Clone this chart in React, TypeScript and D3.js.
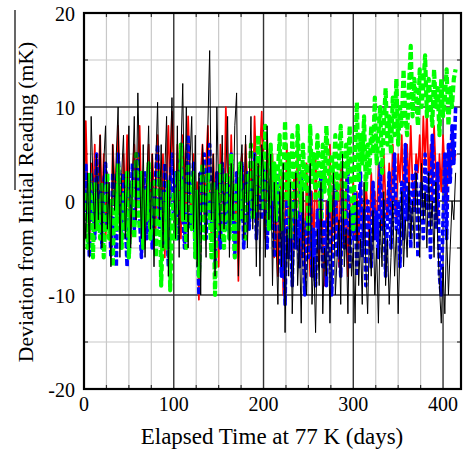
import React from "react";
import * as d3 from "d3";

const DAY_STEP = 2;

const blackSeries = [
  0, -4, 3, -6, 9, 2, -3, 5, -2, 7,
  -5, 4, 8, -3, 2, -7, 6, -1, 5, 10,
  -6, 3, 7, -4, 1, 8, -5, 2, 9, -2,
  11.5, 3, -4, 6, -6, 2, 8, -3, 5, -7,
  4, 10.5, -2, 6, -5, 3, 9, -8, 4, 11,
  2, -4, 8, -6, 5, 12.5, -2, 10, -5, 4,
  9, -3, 7, -7, 3, -10, 6, 2, -6, 8,
  16, -2, 5, -8, 10, 1, -4, 7, -3, 3,
  9, -6, 4, -2, 8, 11.5, -8, 3, 6, -4,
  7, -5, 2, 9, -3, 5, -7, 4, -8, 6,
  3, -6, 8, -2, 5, -9, 2, -4, -11, 1,
  -7, 4, -14, -3, -8, 2, -12, -5, 3, -9,
  -4, -13, 1, -7, -10, -2, 4, -11, -6, -14,
  -3, -9, 2, -12, -5, -8, 0, -13, -4, 3,
  -10, -6, -2, -11, 5, -7, -3, -12, -1, -8,
  -5, -13, 0, -9, -4, -11, 2, -7, -12, -3,
  -8, -1, -10, -5, -13, -2, -7, 1, -9, -4,
  -11, -6, 0, -8, -3, -12, -5, 1, -7, -2,
  -6, 2, -4, 0, -5, 3, -1, -6, 4, -2,
  1, -5, 3, -3, 0, -6, 2, -4, -9, -13,
  -7, -12, -3, -10, -5, 0, -2, 3,
];

const redSeries = [
  -2, 8.5, 1, -5, 4, -1, 6, -3, 2, 7,
  -1, 5, -4, 3, 0, -6, 6, 2, -2, 8,
  1, -3, 5, -1, 7, 0, -4, 3, 6, -2,
  4, 8, -1, 3, -5, 2, 6, -2, 5, 1,
  -3, 7, 2, -1, 5, -6, 3, 8, 0, 9.5,
  4, -2, 6, 1, -4, 7, 3, -1, 9, 2,
  -3, 5, -5, 2, -10.5, 3, 6, -2, 4, 8,
  1, -4, 5, -1, 3, -7, 6, 2, -3, 10,
  4, -2, 7, 0, -5, 3, -8.5, 2, 5, -1,
  6, 2, -3, 4, -1, 9, 3, -2, 5, 9.5,
  2, -4, 7, 1, -3, 5, -6, 2, -8, -1,
  3, -10, -2, 6, -5, 1, -7, 3, -4, 7,
  -1, -6, 2, -9, 4, -3, -8, 1, -5, 5,
  -2, -7, 3, -4, -9, 0, -3, 6, -6, 1,
  -4, 2, -7, 4, -1, -5, 3, -8, 0, -3,
  2, -4, 1, -5, 3, -2, -4, 2, -1, -5,
  3, -3, 1, -4, 4, -1, -3, 5, 0, -2,
  4, -1, 6, 1, -2, 5, 2, 7, 0, 3,
  6, 1, 8, 2, -1, 5, 3, 7, 1, 9,
  4, 10, 2, 6, 0, 8, 3, -2, 5, 1,
  7, 3, -1, 6, 2, 8, 4, 5,
];

const blueSeries = [
  -3, 4, -1, -6, 3, 0, -4, 5, -2, 1,
  -5, 2, 4, -3, 0, -6, 3, -1, -7, 5,
  1, -4, 3, -2, -7, 2, -1, 4, -3, 0,
  5, -2, -6, 1, 3, -4, 0, 2, -5, -1,
  3, 6, -3, 1, -5, 4, -1, -7, 2, 5,
  -2, 3, -4, 1, 6, -1, -5, 2, 7, -3,
  1, 4, -6, -2, -10, 3, -1, 5, -4, 2,
  6, -3, 1, -7, 3, -2, -5, 4, 0, -3,
  2, -4, 5, -1, -6, 3, 0, -2, 4, -5,
  1, 3, -3, 2, -1, 5, -4, 0, 3, -2,
  4, -1, -5, 2, -3, 1, -6, 0, 3, -4,
  -8, -2, -11, 1, -6, -3, -9, 2, -5, -1,
  -7, 3, -4, -10, -2, -6, 1, -8, -3, -9,
  -1, -5, 3, -7, -2, -9, 0, -4, -10, -3,
  2, -6, -3, -8, 1, -5, -2, 4, -7, -1,
  -4, 1, -8, -2, 3, -6, -1, -9, 0, -3,
  -7, 2, -4, -1, -6, 4, -3, 0, -8, -2,
  3, -5, -1, 5, -3, 0, -7, 2, -4, 6,
  -2, 1, -5, 3, -1, 4, -6, 0, 2, -4,
  5, -1, 3, -6, 7, 1, -3, 4, -8, -10,
  -2, 5, -4, 6, 2, 8, 4, 10,
];

const greenSeries = [
  -2, 1, -5, 3, -1, -6, 2, -3, 0, -4,
  2, -6, -1, 3, -4, 0, -7, 1, -3, 4,
  -2, -5, 1, -3, 3, -6, -1, 2, -4, 5,
  0, -3, 3, -5, 1, -2, 4, -4, -1, 2,
  -6, 0, 3, -9, -2, 1, -5, 2, -9.5, -3,
  1, -4, 3, -1, 6, -2, 2, -5, 4, 0,
  -3, 3, -6, 1, -8, -2, 4, -4, 0, 3,
  -1, -6, 2, -10, 1, -3, 4, -2, -5, 3,
  0, -4, 5, -1, -6, 2, -3, 4, -2, 1,
  -4, 3, 0, 6, -2, 4, -1, 7, 1, 5,
  -1, 8, 2, -3, 6, 0, 4, -2, 3, 7,
  -3, 2, 8.5, 0, 5, -4, 7, 2, -2, 8,
  3, -1, 6, 1, 4, -3, 8, 2, 5, 0,
  7, 3, -2, 6, 1, 8, 4, -1, 5, 2,
  7, 0, 4, 8, 2, -2, 6, 3, 8, 1,
  -3, 5, 10.5, 2, 7, 4, 9, 1, 6, 3,
  8, 5, 11, 4, 7, 10, 3, 8, 12, 6,
  9, 5, 11, 7, 13, 6, 10, 8, 14, 9,
  7, 12, 16.5, 9, 13, 11, 8, 14, 10, 12,
  15.5, 9, 13, 11, 8, 14, 10, 12, 7, 13,
  9, 11, 14, 8, 12, 10, 13, 14,
];

const xTickLabels = [0, 100, 200, 300, 400];
const yTickLabels = [-20, -10, 0, 10, 20];
const xMinorGrid = [25, 50, 75, 125, 150, 175, 225, 250, 275, 325, 350, 375];
const xMajorGrid = [100, 200, 300, 400];
const yMinorGrid = [-15, -5, 5, 15];
const yMajorGrid = [-10, 0, 10];

const W = 463;
const H = 451;
const left = 84;
const right = 461;
const top = 13;
const bottom = 389;

export default function App() {
  const x = d3.scaleLinear().domain([0, 420]).range([left, right]);
  const y = d3.scaleLinear().domain([-20, 20]).range([bottom, top]);
  const line = d3
    .line<number>()
    .x((_, i) => x(i * DAY_STEP))
    .y((d) => y(d));

  const series = [
    { data: redSeries, color: "#ff0000", width: 1.7, dash: undefined },
    { data: blueSeries, color: "#0000ff", width: 3.6, dash: "6,2.5" },
    { data: greenSeries, color: "#00ff00", width: 4.2, dash: "7,3" },
    { data: blackSeries, color: "#000000", width: 1, dash: undefined },
  ];

  const font = "'Liberation Serif', 'Times New Roman', serif";

  return (
    <svg
      width={W}
      height={H}
      style={{ position: "absolute", left: 0, top: 0, background: "#fff" }}
    >
      <defs>
        <clipPath id="plotclip">
          <rect x={left} y={top} width={right - left} height={bottom - top} />
        </clipPath>
      </defs>
      <rect x={0} y={0} width={W} height={H} fill="#fff" />
      {xMinorGrid.map((d) => (
        <line key={"xm" + d} x1={x(d)} x2={x(d)} y1={top} y2={bottom} stroke="#c8c8c8" strokeWidth={1.2} />
      ))}
      {yMinorGrid.map((d) => (
        <line key={"ym" + d} x1={left} x2={right} y1={y(d)} y2={y(d)} stroke="#c8c8c8" strokeWidth={1.2} />
      ))}
      {xMajorGrid.map((d) => (
        <line key={"xM" + d} x1={x(d)} x2={x(d)} y1={top} y2={bottom} stroke="#333" strokeWidth={1.4} />
      ))}
      {yMajorGrid.map((d) => (
        <line key={"yM" + d} x1={left} x2={right} y1={y(d)} y2={y(d)} stroke="#333" strokeWidth={1.4} />
      ))}
      {xMinorGrid.map((d) => (
        <g key={"xt" + d}>
          <line x1={x(d)} x2={x(d)} y1={bottom} y2={bottom - 4} stroke="#333" strokeWidth={1.2} />
          <line x1={x(d)} x2={x(d)} y1={top} y2={top + 4} stroke="#333" strokeWidth={1.2} />
        </g>
      ))}
      {yMinorGrid.map((d) => (
        <g key={"yt" + d}>
          <line x1={left} x2={left + 4} y1={y(d)} y2={y(d)} stroke="#333" strokeWidth={1.2} />
          <line x1={right} x2={right - 4} y1={y(d)} y2={y(d)} stroke="#333" strokeWidth={1.2} />
        </g>
      ))}
      <g clipPath="url(#plotclip)">
        {series.map((s, i) => (
          <path
            key={i}
            d={line(s.data) || ""}
            fill="none"
            stroke={s.color}
            strokeWidth={s.width}
            strokeDasharray={s.dash}
            strokeLinejoin="round"
          />
        ))}
      </g>
      <rect
        x={left}
        y={top}
        width={right - left}
        height={bottom - top}
        fill="none"
        stroke="#000"
        strokeWidth={2.2}
      />
      {yTickLabels.map((d) => (
        <text
          key={"yl" + d}
          x={75}
          y={y(d) + 1}
          textAnchor="end"
          dominantBaseline="central"
          fontFamily={font}
          fontSize={20}
          fill="#000"
        >
          {d}
        </text>
      ))}
      {xTickLabels.map((d) => (
        <text
          key={"xl" + d}
          x={x(d)}
          y={411}
          textAnchor="middle"
          fontFamily={font}
          fontSize={20}
          fill="#000"
        >
          {d}
        </text>
      ))}
      <text
        x={272}
        y={444}
        textAnchor="middle"
        fontFamily={font}
        fontSize={23}
        fill="#000"
      >
        Elapsed Time at 77 K (days)
      </text>
      <text
        transform="translate(33,202) rotate(-90)"
        textAnchor="middle"
        fontFamily={font}
        fontSize={21.7}
        fill="#000"
      >
        Deviation from Initial Reading (mK)
      </text>
      <line x1={15} x2={15} y1={10} y2={190} stroke="#000" strokeWidth={1.2} />
    </svg>
  );
}
